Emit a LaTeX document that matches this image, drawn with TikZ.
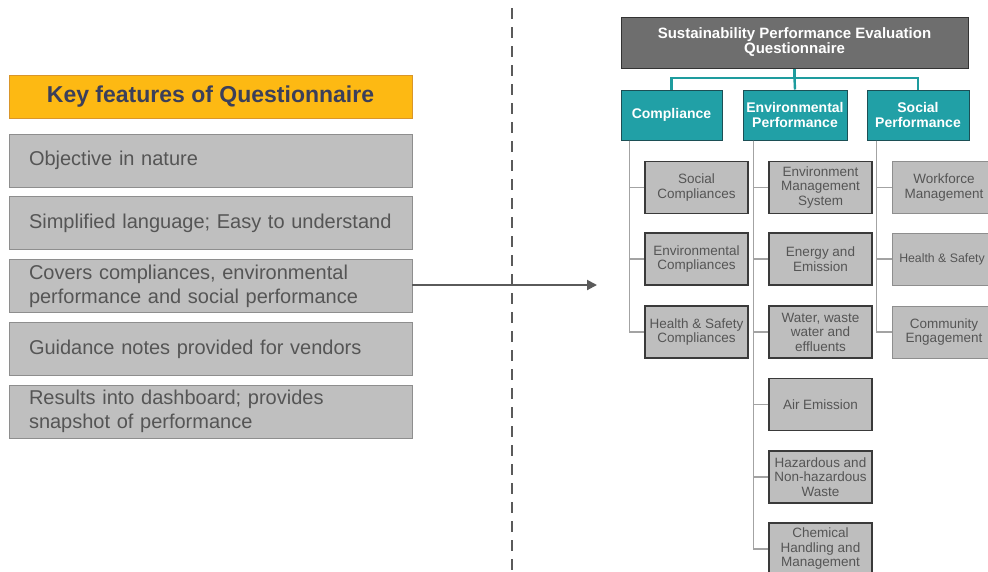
\documentclass[tikz,border=0pt]{standalone}
\usepackage{fontspec}
\setmainfont{Liberation Sans}
\usetikzlibrary{arrows.meta}
\definecolor{orangeY}{HTML}{FDB913}
\definecolor{orangeB}{HTML}{D9962A}
\definecolor{hdrtxt}{HTML}{3B3F5A}
\definecolor{lgfill}{HTML}{BFBFBF}
\definecolor{lgborder}{HTML}{8E8E8E}
\definecolor{txtgray}{HTML}{555555}
\definecolor{topfill}{HTML}{6E6E6E}
\definecolor{topborder}{HTML}{333333}
\definecolor{teal}{HTML}{21A0A6}
\definecolor{tealB}{HTML}{1C4F55}
\definecolor{tealL}{HTML}{1E9C9E}
\definecolor{chfill}{HTML}{BEBEBE}
\definecolor{chborder}{HTML}{3A3A3A}
\definecolor{connG}{HTML}{A3A3A3}
\definecolor{arrG}{HTML}{5A5A5A}
\begin{document}
\begin{tikzpicture}[x=1pt,y=-1pt,
  hdrbox/.style={draw=orangeB,fill=orangeY,line width=0.8pt,minimum width=403pt,minimum height=43pt,
     inner sep=0pt,font=\fontsize{23}{26}\selectfont\bfseries,text=hdrtxt},
  featbox/.style={draw=lgborder,fill=lgfill,line width=0.8pt,text width=363pt,inner xsep=20pt,inner ysep=0pt,
     minimum height=53pt,align=left,font=\fontsize{20}{24}\selectfont,text=txtgray},
  topbox/.style={draw=topborder,fill=topfill,line width=1pt,minimum width=347pt,minimum height=51pt,inner sep=0pt,
     align=center,font=\fontsize{15}{17}\selectfont\bfseries,text=white},
  catbox/.style={draw=tealB,fill=teal,line width=1pt,minimum height=50pt,inner sep=0pt,
     align=center,font=\fontsize{14}{14.5}\selectfont\bfseries,text=white},
  chbox/.style={draw=chborder,fill=chfill,line width=1.1pt,minimum width=103pt,minimum height=52pt,inner sep=0pt,
     align=center,font=\fontsize{13.5}{14.5}\selectfont,text=txtgray},
  chboxL/.style={chbox,draw=lgborder,line width=0.8pt},
  tline/.style={draw=tealL,line width=2.4pt},
  gline/.style={draw=connG,line width=1.6pt},
  divline/.style={draw=arrG,line width=2.2pt,dash pattern=on 11pt off 8pt},
  arrline/.style={draw=arrG,line width=2pt,-{Triangle[length=10pt,width=10pt]}}
]
\useasboundingbox (0,0) rectangle (988,571);
\clip (0,0) rectangle (988,571);

% left column
\node[hdrbox] (hdr) at (210.5,96.5) {Key features of Questionnaire};
\node[featbox] (b1) at (210.5,160.5) {Objective in nature};
\node[featbox] (b2) at (210.5,223) {Simplified language; Easy to understand};
\node[featbox] (b3) at (210.5,286) {Covers compliances, environmental\\performance and social performance};
\node[featbox] (b4) at (210.5,349) {Guidance notes provided for vendors};
\node[featbox] (b5) at (210.5,411.5) {Results into dashboard; provides\\snapshot of performance};

% divider
\coordinate (dtop) at (512,8);
\coordinate (dbot) at (512,571);
\draw[divline] (dtop) -- (dbot);

% arrow
\coordinate (arrtip) at (597,285);
\draw[arrline] (b3.east |- arrtip) -- (arrtip);

% right tree
\node[topbox] (top) at (794.5,42.5) {Sustainability Performance Evaluation\\[-2pt]Questionnaire};
\node[catbox,minimum width=101pt] (comp) at (671.5,115) {Compliance};
\node[catbox,minimum width=104pt] (env) at (795,115) {Environmental\\Performance};
\node[catbox,minimum width=102pt] (soc) at (918,115) {Social\\Performance};

\coordinate (bus) at (794.5,78);
\draw[tline] (top.south) -- (bus);
\draw[tline] (comp.north) |- (bus) -| (soc.north);
\draw[tline] (bus) -- (env.north);

% children
\node[chbox] (c1) at (696.5,187.5) {Social\\Compliances};
\node[chbox] (c2) at (696.5,259) {Environmental\\Compliances};
\node[chbox] (c3) at (696.5,332) {Health \& Safety\\Compliances};

\node[chbox] (e1) at (820.5,187.5) {Environment\\Management\\System};
\node[chbox] (e2) at (820.5,259) {Energy and\\Emission};
\node[chbox] (e3) at (820.5,332) {Water, waste\\water and\\effluents};
\node[chbox] (e4) at (820.5,404.5) {Air Emission};
\node[chbox] (e5) at (820.5,477) {Hazardous and\\Non-hazardous\\Waste};
\node[chbox] (e6) at (820.5,549) {Chemical\\Handling and\\Management};

\node[chboxL] (s1) at (944,187.5) {Workforce\\Management};
\node[chboxL] (s2) at (944,259) {};
\node[font=\fontsize{12.3}{14}\selectfont,text=txtgray,inner sep=0pt] (s2t) at (942,259) {Health \& Safety};
\node[chboxL] (s3) at (944,332) {Community\\Engagement};

\coordinate (cl) at ([xshift=9pt]comp.south west);
\coordinate (el) at ([xshift=11pt]env.south west);
\coordinate (sl) at ([xshift=10pt]soc.south west);
\foreach \n in {c1,c2,c3}{\draw[gline] (cl) |- (\n.west);}
\foreach \n in {e1,e2,e3,e4,e5,e6}{\draw[gline] (el) |- (\n.west);}
\foreach \n in {s1,s2,s3}{\draw[gline] (sl) |- (\n.west);}
\end{tikzpicture}
\end{document}
